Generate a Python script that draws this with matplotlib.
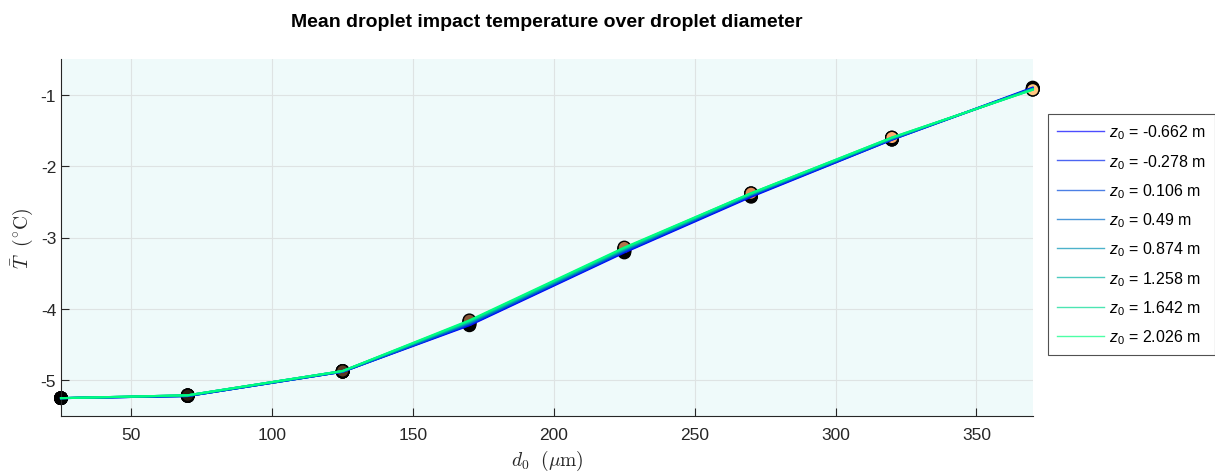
import matplotlib
matplotlib.use('Agg')
import matplotlib.pyplot as plt
import numpy as np

# droplet diameters (um)
d0 = [25, 70, 125, 170, 225, 270, 320, 370]

# release heights z0 (m)
z0_labels = ['-0.662', '-0.278', '0.106', '0.49', '0.874', '1.258', '1.642', '2.026']

# mean impact temperature (degC), one list per release height
T_z1 = [-5.25, -5.22, -4.88, -4.23, -3.21, -2.43, -1.63, -0.90]
T_z2 = [-5.25, -5.22, -4.88, -4.22, -3.20, -2.42, -1.63, -0.91]
T_z3 = [-5.25, -5.22, -4.88, -4.21, -3.19, -2.41, -1.62, -0.91]
T_z4 = [-5.25, -5.22, -4.88, -4.20, -3.18, -2.40, -1.62, -0.92]
T_z5 = [-5.25, -5.21, -4.87, -4.19, -3.17, -2.40, -1.61, -0.92]
T_z6 = [-5.25, -5.21, -4.87, -4.18, -3.16, -2.39, -1.61, -0.92]
T_z7 = [-5.25, -5.21, -4.87, -4.17, -3.15, -2.38, -1.60, -0.93]
T_z8 = [-5.25, -5.21, -4.87, -4.16, -3.14, -2.38, -1.60, -0.93]
T_all = [T_z1, T_z2, T_z3, T_z4, T_z5, T_z6, T_z7, T_z8]

plt.rcParams['font.family'] = ['Liberation Sans', 'DejaVu Sans']
plt.rcParams['mathtext.fontset'] = 'custom'
plt.rcParams['mathtext.it'] = 'Liberation Sans:italic'
plt.rcParams['mathtext.rm'] = 'Liberation Sans'
plt.rcParams['axes.unicode_minus'] = False

txt_col = (0.15, 0.15, 0.15)

fig = plt.figure(figsize=(12.15, 4.77), dpi=100)
ax = fig.add_axes([0.0502, 0.1258, 0.7998, 0.7484])
ax.set_facecolor('#effafa')

n = len(T_all)
line_cols = plt.cm.winter(np.linspace(0, 1, n))
mark_cols = plt.cm.copper(np.linspace(0, 1, len(d0)))

for i, T in enumerate(T_all):
    ax.plot(d0, T, color=line_cols[i], lw=1.5, zorder=3,
            label=r'$z_{\mathit{0}}$ = ' + z0_labels[i] + ' m', clip_on=False)
    ax.scatter(d0, T, s=80, c=mark_cols, edgecolors='black', linewidths=1,
               zorder=2, clip_on=False)

ax.set_xlim(25, 370)
ax.set_ylim(-5.5, -0.5)
ax.set_xticks([50, 100, 150, 200, 250, 300, 350])
ax.set_yticks([-5, -4, -3, -2, -1])
ax.grid(True, color=(0.87, 0.89, 0.89), lw=0.8)
ax.set_axisbelow(True)

for s in ['top', 'right']:
    ax.spines[s].set_visible(False)
for s in ['left', 'bottom']:
    ax.spines[s].set_color(txt_col)
    ax.spines[s].set_linewidth(0.8)
ax.tick_params(direction='in', length=6, width=0.8, colors=txt_col,
               labelsize=12.5, labelcolor=txt_col)
ax.tick_params(axis='x', pad=8)

ax.set_xlabel(r'$d_0\ \ (\mu\mathrm{m})$', fontsize=14, color=txt_col,
              math_fontfamily='cm', labelpad=4)
ax.set_ylabel(r'$\bar{T}\ \ (^{\circ}\mathrm{C})$', fontsize=14, color=txt_col,
              math_fontfamily='cm', labelpad=4)
ax.set_title('Mean droplet impact temperature over droplet diameter',
             fontsize=14, fontweight='bold', pad=24)

leg = fig.legend(loc='upper left', bbox_to_anchor=(0.8626, 0.759),
                 fontsize=11.5, frameon=True, fancybox=False,
                 edgecolor=txt_col, handlelength=2.95, handletextpad=0.3,
                 labelspacing=0.66, borderpad=0.55, borderaxespad=0)
leg.get_frame().set_linewidth(0.8)
for h in leg.get_lines():
    h.set_linewidth(1.0)
    h.set_alpha(0.7)

fig.savefig('out.png', dpi=100)
